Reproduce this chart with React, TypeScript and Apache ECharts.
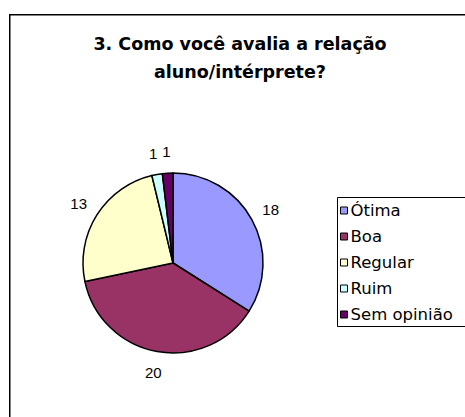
import React, { useEffect, useRef } from "react";
import * as echarts from "echarts";

const categories = ["Ótima", "Boa", "Regular", "Ruim", "Sem opinião"];
const values = [18, 20, 13, 1, 1];
const colors = ["#9999FF", "#993366", "#FFFFCC", "#CCFFFF", "#660066"];
const titleText = "3. Como você avalia a relação\naluno/intérprete?";

export default function App() {
  const ref = useRef<HTMLDivElement>(null);
  useEffect(() => {
    if (!ref.current) return;
    const chart = echarts.init(ref.current, null, { renderer: "svg" });
    const data = categories.map((name, i) => ({
      name,
      value: values[i],
      itemStyle: { color: colors[i] },
    }));
    chart.setOption({
      animation: false,
      backgroundColor: "#fff",
      title: {
        text: titleText,
        left: 240,
        top: 30,
        textAlign: "center",
        padding: 0,
        textStyle: {
          fontFamily: "DejaVu Sans",
          fontWeight: "bold",
          fontSize: 17.5,
          lineHeight: 28,
          color: "#000",
        },
      },
      legend: {
        orient: "vertical",
        left: 340,
        top: 202,
        padding: 0,
        itemWidth: 7,
        itemHeight: 7,
        itemGap: 9,
        icon: "rect",
        selectedMode: false,
        data: categories.map((name, i) => ({
          name,
          itemStyle: { color: colors[i], borderColor: "#000", borderWidth: 1 },
        })),
        textStyle: {
          fontFamily: "DejaVu Sans",
          fontSize: 16.5,
          lineHeight: 16,
          color: "#000",
          padding: [0, 0, 0, -2],
        },
      },
      graphic: [
        {
          type: "rect",
          shape: { x: 9.75, y: 14.75, width: 470, height: 420 },
          style: { fill: "none", stroke: "#000", lineWidth: 1.5 },
          silent: true,
        },
        {
          type: "rect",
          shape: { x: 337.5, y: 197.5, width: 140, height: 129 },
          style: { fill: "none", stroke: "#000", lineWidth: 1 },
          silent: true,
        },
      ],
      series: [
        {
          type: "pie",
          center: [173, 263],
          radius: 90,
          startAngle: 90,
          clockwise: true,
          avoidLabelOverlap: false,
          label: { show: false },
          labelLine: { show: false },
          itemStyle: { borderColor: "#000", borderWidth: 1.5 },
          emphasis: { disabled: true },
          data,
        },
        {
          type: "pie",
          center: [173, 263],
          radius: [90, 127],
          startAngle: 90,
          clockwise: true,
          silent: true,
          avoidLabelOverlap: false,
          itemStyle: { color: "rgba(0,0,0,0)", borderWidth: 0 },
          label: {
            show: true,
            position: "inside",
            formatter: "{c}",
            color: "#000",
            fontFamily: "Liberation Sans",
            fontSize: 15,
          },
          labelLine: { show: false },
          emphasis: { disabled: true },
          data: categories.map((name, i) => ({ name, value: values[i] })),
        },
      ],
    });
    return () => chart.dispose();
  }, []);
  return (
    <div
      ref={ref}
      style={{ position: "fixed", left: 0, top: 0, width: 465, height: 417 }}
    />
  );
}
